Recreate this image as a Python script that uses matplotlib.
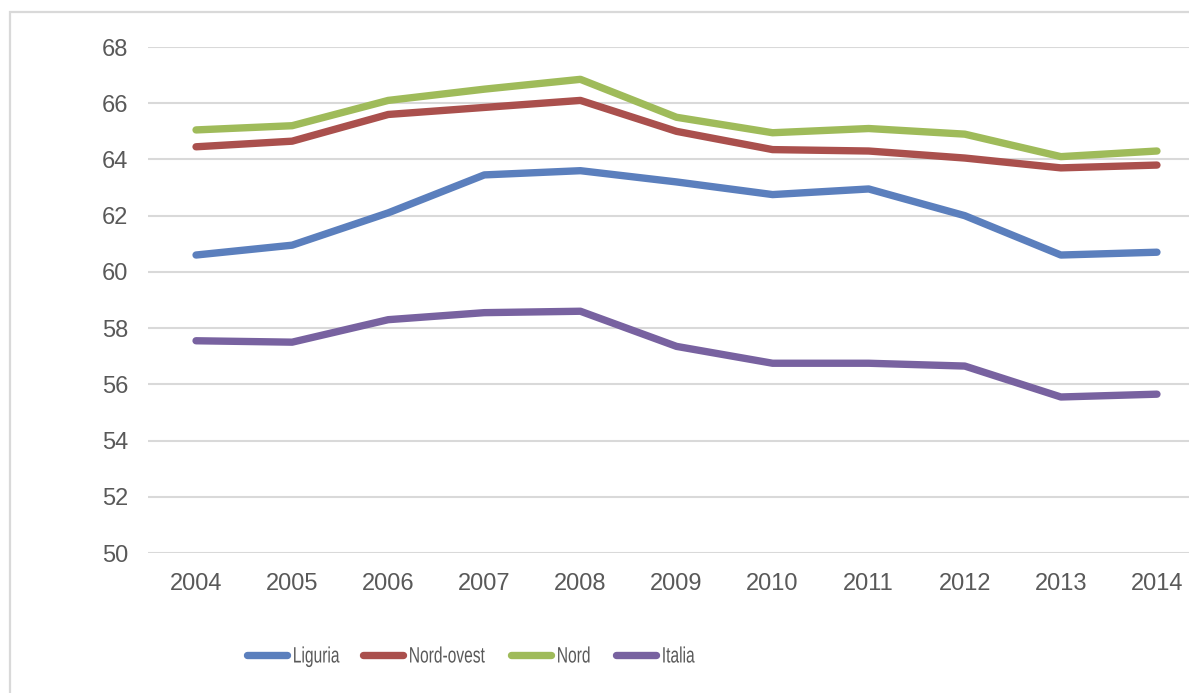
"""Tasso di occupazione 2004-2014: Liguria, Nord-ovest, Nord, Italia."""

import matplotlib
matplotlib.use("Agg")
import matplotlib.pyplot as plt
from matplotlib import patheffects
from matplotlib.patches import Rectangle
from matplotlib.transforms import Affine2D

plt.rcParams["font.family"] = ["Liberation Sans", "DejaVu Sans"]

anni = ["2004", "2005", "2006", "2007", "2008", "2009",
        "2010", "2011", "2012", "2013", "2014"]
liguria = [60.6, 60.95, 62.1, 63.45, 63.6, 63.2, 62.75, 62.95, 62.0, 60.6, 60.7]
nord_ovest = [64.45, 64.65, 65.6, 65.85, 66.1, 65.0, 64.35, 64.3, 64.05, 63.7, 63.8]
nord = [65.05, 65.2, 66.1, 66.5, 66.85, 65.5, 64.95, 65.1, 64.9, 64.1, 64.3]
italia = [57.55, 57.5, 58.3, 58.55, 58.6, 57.35, 56.75, 56.75, 56.65, 55.55, 55.65]

serie = [
    ("Liguria", liguria, "#5b7fbd"),
    ("Nord-ovest", nord_ovest, "#aa504d"),
    ("Nord", nord, "#9fbb5a"),
    ("Italia", italia, "#7862a0"),
]

# inizio (px) di ogni voce della legenda, come nell'originale
pos_legenda = [243, 359, 507, 612]


class Stringi(patheffects.AbstractPathEffect):
    """Comprime il testo in orizzontale (la legenda originale usa un font stretto)."""

    def __init__(self, sx):
        super().__init__()
        self.sx = sx

    def draw_path(self, renderer, gc, tpath, affine, rgbFace=None):
        renderer.draw_path(gc, tpath, Affine2D().scale(self.sx, 1) + affine, rgbFace)


W, H = 1189, 693
fig = plt.figure(figsize=(W / 100, H / 100), dpi=100)

# cornice grigia del grafico (tagliata a destra e in basso)
fig.patches.append(Rectangle((10 / W, -0.1), 1.2, 1.1 - 12 / H,
                             transform=fig.transFigure, fill=False,
                             edgecolor="#d9d9d9", linewidth=1.6))

ax = fig.add_axes([148 / W, 1 - 553 / H, 1057 / W, (553 - 47) / H])

x = list(range(len(anni)))
linee = []
for nome, valori, colore in serie:
    (ln,) = ax.plot(x, valori, color=colore, linewidth=5.3, label=nome,
                    solid_capstyle="round", solid_joinstyle="round", clip_on=False)
    linee.append(ln)

ax.set_xlim(-0.5, len(anni) - 0.5)
ax.set_ylim(50, 68)
ax.set_yticks(range(50, 69, 2))
ax.set_xticks(x)
ax.set_xticklabels(anni)

ax.grid(axis="y", color="#d9d9d9", linewidth=1.5)
ax.set_axisbelow(True)
for s in ax.spines.values():
    s.set_visible(False)
ax.tick_params(length=0, labelsize=17, labelcolor="#595959")
ax.tick_params(axis="y", pad=14)
ax.tick_params(axis="x", pad=14.5)

# una legenda per voce, così le distanze restano quelle dell'originale
size_legenda = 16
px_em = size_legenda * 100 / 72
for ln, (nome, _, _), x0 in zip(linee, serie, pos_legenda):
    leg = fig.legend([ln], [nome], loc="center left",
                     bbox_to_anchor=((x0 + 3.7) / W, 1 - 657 / H),
                     frameon=False, fontsize=size_legenda, borderpad=0,
                     borderaxespad=0, handlelength=40.6 / px_em,
                     handletextpad=5.5 / px_em)
    for t in leg.get_texts():
        t.set_color("#595959")
        t.set_path_effects([Stringi(0.7)])

fig.savefig("out.png", dpi=100)
